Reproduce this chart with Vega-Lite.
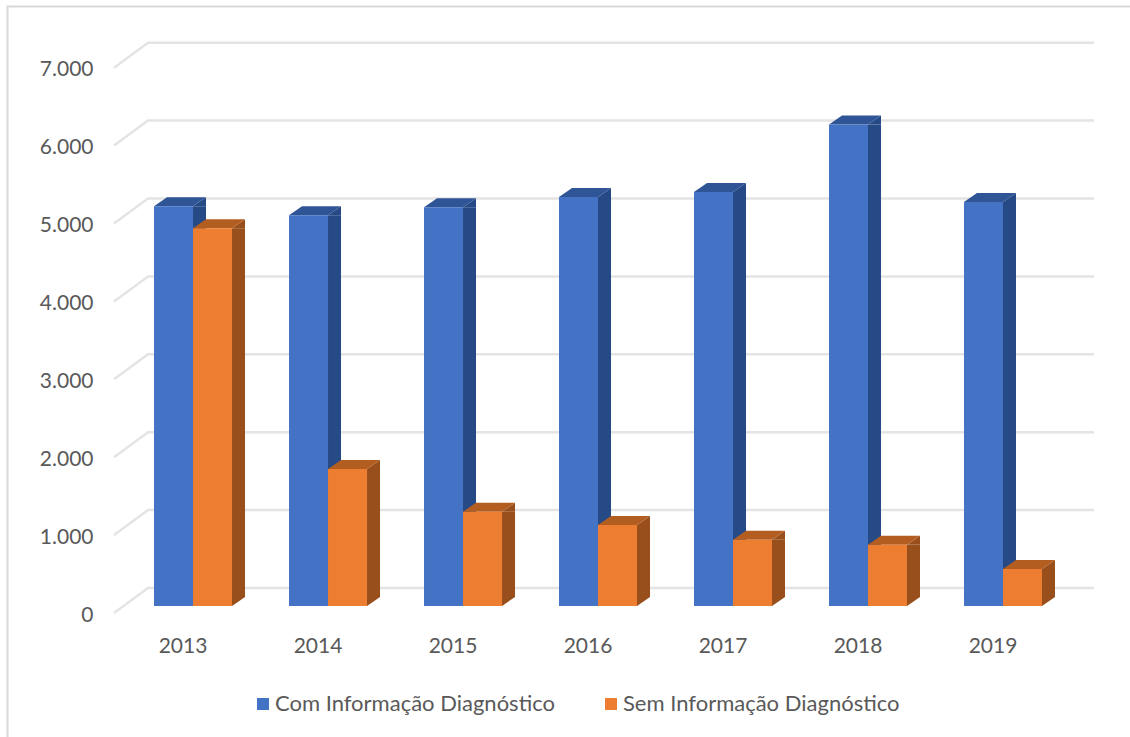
{
"$schema":"https://vega.github.io/schema/vega-lite/v6.json",
"width":1130,"height":737,"padding":0,"autosize":{"type":"none"},"background":"#ffffff",
"config":{"view":{"stroke":null},"font":"Lato"},
"datasets":{
"bars":[
{"ano":2013,"serie":"Com Informação Diagnóstico","valor":5130},
{"ano":2014,"serie":"Com Informação Diagnóstico","valor":5015},
{"ano":2015,"serie":"Com Informação Diagnóstico","valor":5120},
{"ano":2016,"serie":"Com Informação Diagnóstico","valor":5250},
{"ano":2017,"serie":"Com Informação Diagnóstico","valor":5315},
{"ano":2018,"serie":"Com Informação Diagnóstico","valor":6180},
{"ano":2019,"serie":"Com Informação Diagnóstico","valor":5185},
{"ano":2013,"serie":"Sem Informação Diagnóstico","valor":4850},
{"ano":2014,"serie":"Sem Informação Diagnóstico","valor":1760},
{"ano":2015,"serie":"Sem Informação Diagnóstico","valor":1210},
{"ano":2016,"serie":"Sem Informação Diagnóstico","valor":1040},
{"ano":2017,"serie":"Sem Informação Diagnóstico","valor":850},
{"ano":2018,"serie":"Sem Informação Diagnóstico","valor":785},
{"ano":2019,"serie":"Sem Informação Diagnóstico","valor":475}
],
"ticks":[{"ano":2013,"valor":0},{"ano":2013,"valor":1000},{"ano":2013,"valor":2000},{"ano":2013,"valor":3000},{"ano":2013,"valor":4000},{"ano":2013,"valor":5000},{"ano":2013,"valor":6000},{"ano":2013,"valor":7000}]
},
"data":{"name":"bars"},
"encoding":{
"x":{"field":"ano","type":"quantitative","scale":{"domain":[2011.648,2020.0185],"nice":false,"zero":false,"padding":0},
"axis":{"title":null,"values":[2013,2014,2015,2016,2017,2018,2019],"format":"d","grid":false,"domain":false,"ticks":false,"offset":-91,"labelPadding":0,"labelBaseline":"middle","labelFontSize":21,"labelColor":"#595959","labelFont":"Lato"}},
"y":{"field":"valor","type":"quantitative","scale":{"domain":[-1681.6,7779.2],"nice":false,"zero":false,"padding":0},
"axis":{"title":null,"values":[0,1000,2000,3000,4000,5000,6000,7000],"labelExpr":"replace(format(datum.value, ','), ',', '.')","grid":false,"domain":false,"ticks":false,"offset":-93,"labelPadding":0,"labelOffset":9,"labelAlign":"right","labelBaseline":"middle","labelFontSize":21,"labelColor":"#595959","labelFont":"Lato"}}
},
"layer":[
{"data":{"name":"ticks"},"transform":[{"filter":"datum.valor === 7000"}],"mark":{"type":"point","filled":false,"opacity":1,"size":4,"stroke":"#D9D9D9","strokeWidth":2,"shape":"M-175,690L-175,-54.2L960,-54.2"}},
{"data":{"name":"ticks"},"mark":{"type":"point","filled":false,"opacity":1,"size":4,"stroke":"#E4E4E4","strokeWidth":2.5,"shape":"M-68.5,7L-34.5,-18L911.5,-18"}},
{"transform":[{"filter":"datum.serie === 'Com Informação Diagnóstico'"}],
 "layer":[
  {"mark":{"type":"bar","orient":"vertical","color":"#264A85","width":13,"xOffset":17,"y2Offset":-9},"encoding":{"y2":{"datum":0}}},
  {"mark":{"type":"point","filled":true,"opacity":1,"size":4,"color":"#264A85","shape":"M10.5,0L23.5,-9L23.5,0Z"}},
  {"mark":{"type":"point","filled":true,"opacity":1,"size":4,"color":"#264A85","shape":"M10.5,0L10.5,-9L23.5,-9Z"},"encoding":{"y":{"datum":0}}},
  {"mark":{"type":"point","filled":true,"opacity":1,"size":4,"color":"#2F5597","shape":"M-28.5,0L10.5,0L23.5,-9L-15.5,-9Z"}},
  {"mark":{"type":"bar","orient":"vertical","width":39,"xOffset":-9},
   "encoding":{"y2":{"datum":0},"color":{"field":"serie","type":"nominal","scale":{"domain":["Com Informação Diagnóstico","Sem Informação Diagnóstico"],"range":["#4472C4","#ED7D31"]},
    "legend":{"title":null,"orient":"none","legendX":252,"legendY":693,"padding":0,"direction":"horizontal","columns":2,"symbolType":"square","symbolSize":144,"symbolStrokeWidth":0,"symbolOpacity":1,"labelFontSize":22,"labelColor":"#595959","labelFont":"Lato","labelOffset":1,"labelLimit":400,"columnPadding":45}}}}
 ]},
{"transform":[{"filter":"datum.serie === 'Sem Informação Diagnóstico'"}],
 "layer":[
  {"mark":{"type":"bar","orient":"vertical","color":"#984F1C","width":13,"xOffset":56,"y2Offset":-9},"encoding":{"y2":{"datum":0}}},
  {"mark":{"type":"point","filled":true,"opacity":1,"size":4,"color":"#984F1C","shape":"M49.5,0L62.5,-9L62.5,0Z"}},
  {"mark":{"type":"point","filled":true,"opacity":1,"size":4,"color":"#984F1C","shape":"M49.5,0L49.5,-9L62.5,-9Z"},"encoding":{"y":{"datum":0}}},
  {"mark":{"type":"point","filled":true,"opacity":1,"size":4,"color":"#B35E20","shape":"M10.5,0L49.5,0L62.5,-9L23.5,-9Z"}},
  {"mark":{"type":"bar","orient":"vertical","width":39,"xOffset":30},
   "encoding":{"y2":{"datum":0},"color":{"field":"serie","type":"nominal"}}}
 ]}
]
}
